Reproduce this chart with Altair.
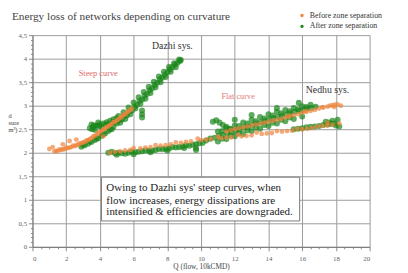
import altair as alt
import pandas as pd

# ---- data (Q = flow, H = head pressure) ----
# Before zone separation (orange)
before_dazhi_x = [1.3, 1.5, 1.7, 1.9, 2.1, 2.3, 2.5, 2.7, 2.9, 3.1, 3.3, 3.5, 3.7, 3.9, 4.1, 4.3, 4.5, 4.7, 4.9, 5.1, 5.3, 5.5, 5.7, 5.9,
                  1.6, 2.0, 2.4, 2.8, 3.2, 3.6, 4.0, 4.4, 4.8, 5.2, 5.6,
                  1.4, 1.8, 2.2, 2.6, 3.0, 3.4, 3.8, 4.2, 4.6, 5.0, 5.4, 5.8,
                  1.2, 1.8, 2.6, 1.0, 2.2, 4.2]
before_dazhi_y = [2.03, 2.04, 2.06, 2.08, 2.10, 2.12, 2.14, 2.17, 2.20, 2.23, 2.27, 2.31, 2.36, 2.41, 2.46, 2.51, 2.56, 2.61, 2.66, 2.71, 2.76, 2.82, 2.88, 2.94,
                  2.07, 2.11, 2.15, 2.20, 2.26, 2.35, 2.45, 2.55, 2.65, 2.75, 2.86,
                  2.04, 2.07, 2.11, 2.16, 2.22, 2.29, 2.39, 2.49, 2.59, 2.69, 2.80, 2.91,
                  2.12, 2.18, 2.28, 2.08, 2.25, 2.35]
before_flat_x = [4.6, 5.2, 5.8, 6.4, 7.0, 7.6, 8.2, 8.8, 9.4, 10.0, 10.6, 11.2, 11.8, 12.4, 13.0, 13.6, 14.2, 14.8, 15.4, 16.0, 16.6, 17.2, 17.8, 18.2,
                 6.0, 7.3, 8.5, 9.8, 11.0, 12.2, 13.3, 14.5, 15.7, 16.9, 17.5,
                 4.9, 5.5, 6.7, 7.9, 9.1, 10.3, 11.5, 12.7, 13.9, 15.1, 16.3, 17.5]
before_flat_y = [2.00, 2.03, 2.06, 2.09, 2.12, 2.15, 2.18, 2.21, 2.24, 2.27, 2.29, 2.31, 2.33, 2.35, 2.37, 2.40, 2.42, 2.45, 2.47, 2.50, 2.53, 2.57, 2.60, 2.62,
                 2.10, 2.16, 2.22, 2.30, 2.34, 2.38, 2.43, 2.46, 2.51, 2.56, 2.64,
                 2.02, 2.05, 2.11, 2.16, 2.23, 2.28, 2.32, 2.36, 2.41, 2.46, 2.51, 2.58]
before_nedhu_x = [11.5, 12.0, 12.5, 13.0, 13.5, 14.0, 14.5, 15.0, 15.5, 16.0, 16.5, 17.0, 17.5, 17.8, 18.1, 18.3,
                  15.2, 16.2, 17.2, 17.9,
                  11.75, 12.25, 12.75, 13.25, 13.75, 14.25, 14.75, 15.25, 15.75, 16.25, 16.75, 17.25, 17.65, 17.95]
before_nedhu_y = [2.45, 2.50, 2.54, 2.58, 2.62, 2.66, 2.70, 2.75, 2.80, 2.85, 2.89, 2.94, 2.98, 3.01, 3.03, 3.00,
                  2.79, 2.88, 2.97, 2.97,
                  2.48, 2.52, 2.56, 2.60, 2.64, 2.68, 2.72, 2.77, 2.82, 2.87, 2.91, 2.96, 3.00, 3.02]

# After zone separation (green)
after_dazhi_x = [2.9, 3.1, 3.3, 3.5, 3.7, 3.9, 4.1, 4.3, 4.5, 4.7, 3.0, 3.4, 3.8, 4.2, 4.6, 4.8,
                 3.4, 3.6, 3.8, 4.0, 4.2, 4.4, 4.6, 4.8, 5.0, 3.7, 4.1, 4.5, 4.9, 3.5, 3.9,
                 3.55, 3.95, 4.35, 4.75, 5.05, 3.65,
                 5.0, 5.3, 5.6, 5.9, 6.2, 6.5, 6.8, 7.1, 7.4, 7.7, 8.0, 8.3, 8.6, 8.8,
                 5.15, 5.45, 5.75, 6.05, 6.35, 6.65, 6.95, 7.25, 7.55, 7.85, 8.15, 8.45, 8.75,
                 5.1, 5.4, 5.7, 6.0, 6.3, 6.6, 6.9, 7.2, 7.5, 7.8, 8.1, 8.4, 8.7,
                 5.2, 5.5, 5.8, 6.1, 6.4, 6.7, 7.0, 7.3, 7.6, 7.9, 8.2, 8.5,
                 6.5, 6.5, 6.5]
after_dazhi_y = [2.13, 2.16, 2.19, 2.23, 2.27, 2.31, 2.36, 2.41, 2.46, 2.50, 2.17, 2.24, 2.30, 2.40, 2.50, 2.55,
                 2.52, 2.55, 2.58, 2.60, 2.62, 2.65, 2.68, 2.71, 2.74, 2.49, 2.54, 2.60, 2.66, 2.60, 2.64,
                 2.50, 2.57, 2.60, 2.64, 2.68, 2.58,
                 2.62, 2.70, 2.79, 2.90, 3.02, 3.13, 3.25, 3.37, 3.49, 3.60, 3.71, 3.82, 3.91, 3.97,
                 2.70, 2.78, 2.88, 2.98, 3.10, 3.21, 3.33, 3.44, 3.56, 3.66, 3.77, 3.87, 3.95,
                 2.78, 2.86, 2.96, 3.07, 3.18, 3.29, 3.40, 3.51, 3.62, 3.72, 3.82, 3.90, 3.98,
                 2.64, 2.72, 2.82, 2.94, 3.04, 3.15, 3.27, 3.39, 3.50, 3.61, 3.72, 3.82,
                 2.75, 2.82, 2.90]
after_flat_x = [4.5, 4.9, 5.3, 5.7, 6.1, 6.5, 6.9, 7.3, 7.7, 8.1, 8.5, 8.9, 9.3, 9.7, 10.1, 5.0, 6.0, 7.0, 8.0, 9.0, 9.7, 9.7,
                4.7, 5.1, 5.5, 5.9, 6.3, 6.7, 7.1, 7.5, 7.9, 8.3, 8.7, 9.1, 9.5, 9.9]
after_flat_y = [2.00, 1.99, 1.99, 2.00, 2.01, 2.03, 2.04, 2.06, 2.08, 2.09, 2.11, 2.13, 2.15, 2.18, 2.21, 1.96, 1.97, 2.01, 2.05, 2.10, 2.06, 2.10,
                2.02, 2.00, 1.98, 2.02, 2.02, 2.05, 2.05, 2.08, 2.08, 2.12, 2.12, 2.16, 2.17, 2.20]
after_nedhu_x = [10.3, 10.8, 11.3, 11.8, 12.3, 12.8, 13.3, 13.8, 14.3, 14.8, 15.3, 15.8, 16.3, 16.8,
                 11.0, 11.5, 12.0, 12.5, 13.0, 13.5, 14.0, 14.5, 15.0, 15.5, 16.0, 16.5,
                 11.0, 11.5, 12.0, 12.5, 13.0, 13.5, 14.0, 14.5, 15.0, 15.5, 16.0,
                 10.55, 11.05, 11.55, 12.05, 12.55, 13.05, 13.55, 14.05, 14.55, 15.05, 15.55, 16.05, 16.55,
                 11.25, 11.75, 12.25, 12.75, 13.25, 13.75, 14.25, 14.75, 15.25, 15.75, 16.25,
                 11.25, 11.75, 12.25, 12.75, 13.25, 13.75, 14.25, 14.75, 15.25,
                 10.9, 11.1, 11.3, 11.5, 11.7, 10.7,
                 15.5, 16.0, 16.5, 17.0, 17.5, 17.9, 18.2, 17.8, 17.4, 18.1,
                 15.75, 16.25, 16.75, 17.25, 17.7, 18.0, 17.6,
                 13.0, 14.5, 12.0, 15.8]
after_nedhu_y = [2.26, 2.32, 2.38, 2.44, 2.50, 2.56, 2.62, 2.68, 2.74, 2.79, 2.84, 2.89, 2.94, 2.98,
                 2.45, 2.52, 2.58, 2.64, 2.70, 2.76, 2.82, 2.87, 2.91, 2.95, 2.99, 3.02,
                 2.24, 2.29, 2.35, 2.40, 2.46, 2.51, 2.57, 2.62, 2.67, 2.72, 2.77,
                 2.30, 2.36, 2.42, 2.47, 2.53, 2.59, 2.65, 2.71, 2.76, 2.81, 2.87, 2.91, 2.95,
                 2.46, 2.50, 2.57, 2.62, 2.67, 2.73, 2.79, 2.84, 2.88, 2.92, 2.97,
                 2.30, 2.36, 2.42, 2.48, 2.53, 2.59, 2.64, 2.70, 2.75,
                 2.69, 2.64, 2.59, 2.55, 2.51, 2.66,
                 2.50, 2.52, 2.55, 2.57, 2.60, 2.62, 2.56, 2.68, 2.66, 2.70,
                 2.51, 2.54, 2.56, 2.59, 2.61, 2.58, 2.64,
                 2.80, 2.95, 2.70, 3.06]

series_names = ["Before zone separation", "After zone separation"]
series_colors = ["#f0843c", "#1a861a"]

labels_text = ["Dazhi sys.", "Steep curve", "Flat curve", "Nedhu sys."]
labels_x = [8.3, 3.9, 12.2, 17.5]
labels_y = [4.26, 3.70, 3.21, 3.33]
labels_color = ["#333333", "#e06868", "#e87878", "#333333"]
labels_size = [10, 8.5, 8.5, 10]

note_lines = ["Owing to Dazhi sys' steep curves, when",
              "flow increases, energy dissipations are",
              "intensified & efficiencies are downgraded."]
note_x = 4.38
note_y = [1.25, 0.98, 0.73]
note_box = {"x": 4.09, "x2": 15.85, "y": 1.48, "y2": 0.55}

y_title_parts = ["d", "sure", "m³)"]

x_ticks = [i * 0.5 for i in range(41)]
y_ticks = [round(i * 0.1, 1) for i in range(46)]

# ---- tables ----
df_pts = pd.concat([
    pd.DataFrame({"Q": after_dazhi_x + after_flat_x + after_nedhu_x,
                  "H": after_dazhi_y + after_flat_y + after_nedhu_y,
                  "series": series_names[1], "o": 0, "sz": 38}),
    pd.DataFrame({"Q": before_dazhi_x + before_flat_x + before_nedhu_x,
                  "H": before_dazhi_y + before_flat_y + before_nedhu_y,
                  "series": series_names[0], "o": 1, "sz": 24}),
])
df_lab = pd.DataFrame({"t": labels_text, "x": labels_x, "y": labels_y,
                       "c": labels_color, "s": labels_size})
df_note = pd.DataFrame({"t": note_lines, "x": [note_x] * 3, "y": note_y})
df_box = pd.DataFrame([note_box])

FONT = "Liberation Serif"
xs = alt.Scale(domain=[0, 20], nice=False, zero=False)
ys = alt.Scale(domain=[0, 4.5], nice=False, zero=False)

major_x = "abs(datum.value/2 - round(datum.value/2)) < 0.001"
major_y = "abs(datum.value*2 - round(datum.value*2)) < 0.001"

x_axis = alt.Axis(values=x_ticks, tickCount=200, title="Q (flow, 10kCMD)",
                  labelExpr=f"({major_x}) ? format(datum.value, '~g') : ''",
                  labelOverlap=False,
                  gridOpacity={"condition": {"test": major_x, "value": 1}, "value": 0},
                  tickSize={"condition": {"test": major_x, "value": 4}, "value": 2},
                  labelFont=FONT, labelFontSize=7, labelColor="#666666", labelPadding=4,
                  titleFont=FONT, titleFontSize=7.5, titleFontWeight="normal", titleColor="#444444",
                  titlePadding=1, domainColor="#777777", tickColor="#888888", gridColor="#9a9a9a")
y_axis = alt.Axis(values=y_ticks, tickCount=200, title=None,
                  labelExpr=f"({major_y}) ? replace(format(datum.value, '~g'), '.', ',') : ''",
                  labelOverlap=False,
                  gridOpacity={"condition": {"test": major_y, "value": 1}, "value": 0},
                  tickSize={"condition": {"test": major_y, "value": 4}, "value": 2},
                  labelFont=FONT, labelFontSize=7, labelColor="#666666", labelPadding=2,
                  domainColor="#777777", tickColor="#888888", gridColor="#9a9a9a")

pts = alt.Chart(df_pts).mark_circle(opacity=0.7).encode(
    x=alt.X("Q:Q", scale=xs, axis=x_axis),
    y=alt.Y("H:Q", scale=ys, axis=y_axis),
    size=alt.Size("sz:Q", scale=None, legend=None),
    color=alt.Color("series:N", scale=alt.Scale(domain=series_names, range=series_colors),
                    legend=alt.Legend(title=None, orient="none", legendX=271, legendY=-24,
                                      symbolType="circle", symbolSize=12, rowPadding=3,
                                      symbolOpacity=1, labelLimit=200,
                                      labelFont=FONT, labelFontSize=8, labelColor="#333333",
                                      labelOffset=4)),
    order="o:Q",
)

box = alt.Chart(df_box).mark_rect(fill="white", stroke="#777777", strokeWidth=1).encode(
    x="x:Q", x2="x2:Q", y="y:Q", y2="y2:Q")

note = alt.Chart(df_note).mark_text(align="left", baseline="middle", font=FONT,
                                    fontSize=11.2, color="#222222").encode(
    x="x:Q", y="y:Q", text="t:N")

labs = alt.Chart(df_lab).mark_text(align="center", baseline="middle", font=FONT).encode(
    x="x:Q", y="y:Q", text="t:N",
    color=alt.Color("c:N", scale=None),
    size=alt.Size("s:Q", scale=None))

title_df = pd.DataFrame({"t": ["Energy loss of networks depending on curvature"]})
title = alt.Chart(title_df).mark_text(align="left", baseline="middle", font=FONT,
                                      fontSize=11.5, color="#444444").encode(
    x=alt.value(-21), y=alt.value(-18), text="t:N")

ytitle_df = pd.DataFrame({"t": y_title_parts, "py": [83, 90, 97]})
ytitle = alt.Chart(ytitle_df).mark_text(align="left", baseline="middle", font=FONT,
                                        fontSize=6.5, color="#444444").encode(
    x=alt.value(-24.5), y=alt.Y("py:Q", scale=None, axis=None), text="t:N")

chart = alt.layer(box, pts, note, labs, title, ytitle).properties(
    width=344, height=216,
    autosize=alt.AutoSizeParams(type="none"),
    padding={"left": 25, "top": 25, "right": 31, "bottom": 24},
    background="white",
).configure_view(strokeWidth=0)

chart.save("out.html", embed_options={"renderer": "svg", "actions": False})
